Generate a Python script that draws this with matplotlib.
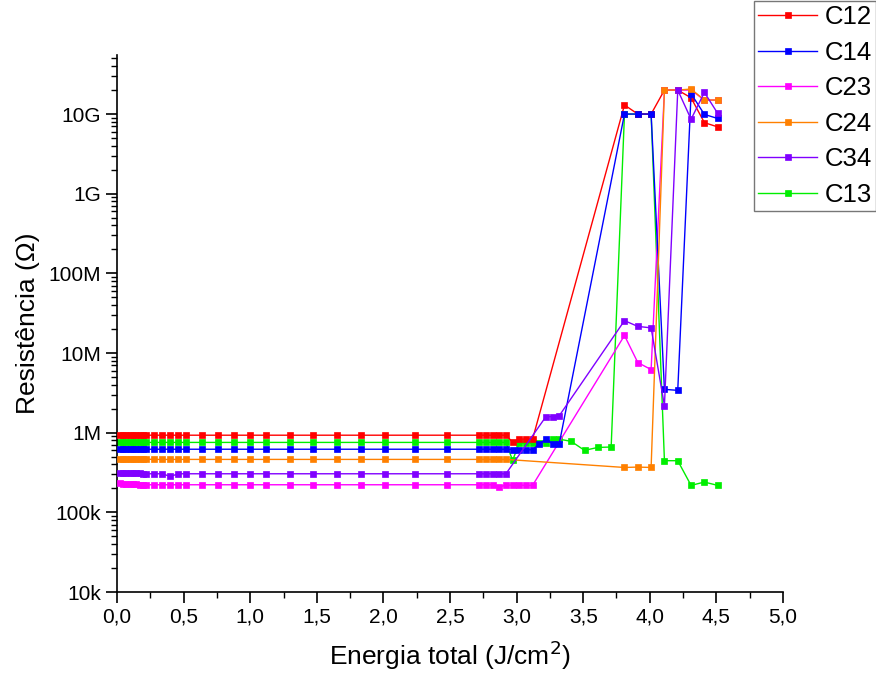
import matplotlib
matplotlib.use('Agg')
import matplotlib.pyplot as plt
from matplotlib.ticker import LogLocator, FixedLocator, FuncFormatter

plt.rcParams['font.family'] = ['Liberation Sans', 'DejaVu Sans']

# shared x positions (J/cm2) of the early measurements
x_base = [0.02, 0.045, 0.07, 0.095, 0.12, 0.145, 0.17, 0.195, 0.22, 0.28, 0.34,
          0.40, 0.46, 0.52, 0.64, 0.76, 0.88, 1.00, 1.12, 1.30, 1.47, 1.65,
          1.83, 2.01, 2.24, 2.48, 2.72, 2.77, 2.82, 2.87, 2.92]

# resistances in kOhm
c12_x = x_base + [2.97, 3.02, 3.07, 3.12, 3.81, 3.91, 4.01, 4.11, 4.21, 4.31, 4.41, 4.51]
c12_y = [930, 930, 930, 930, 930, 930, 930, 930, 930, 930, 930,
         930, 930, 930, 930, 930, 930, 930, 930, 930, 930, 930,
         930, 930, 930, 930, 930, 930, 930, 930, 930,
         760, 830, 830, 830, 1.3e7, 1.0e7, 1.0e7, 2.0e7, 2.0e7, 1.6e7, 7.8e6, 6.9e6]

c14_x = x_base + [2.97, 3.02, 3.07, 3.12, 3.17, 3.22, 3.27, 3.32,
                  3.81, 3.91, 4.01, 4.11, 4.21, 4.31, 4.41, 4.51]
c14_y = [620, 620, 620, 620, 620, 620, 620, 620, 620, 620, 620,
         620, 620, 620, 620, 620, 620, 620, 620, 620, 620, 620,
         620, 620, 620, 620, 620, 620, 620, 620, 620,
         615, 610, 610, 610, 725, 830, 725, 725,
         1.0e7, 1.0e7, 1.0e7, 3500, 3400, 1.8e7, 9.9e6, 8.8e6]

c23_x = x_base + [2.97, 3.02, 3.07, 3.12, 3.81, 3.91, 4.01, 4.11, 4.21, 4.31, 4.41, 4.51]
c23_y = [232, 230, 228, 226, 225, 224, 223, 222, 222, 222, 222,
         222, 222, 222, 222, 222, 222, 222, 222, 222, 222, 222,
         222, 222, 222, 222, 222, 222, 222, 208, 220,
         220, 220, 218, 218, 16600, 7600, 6200, 2.0e7, 2.0e7, 2.0e7, 1.5e7, 1.5e7]

c24_x = x_base + [3.81, 3.91, 4.01, 4.11, 4.21, 4.31, 4.41, 4.51]
c24_y = [465, 465, 465, 465, 465, 465, 465, 465, 465, 462, 462,
         462, 462, 462, 462, 462, 462, 462, 462, 462, 462, 462,
         462, 462, 462, 462, 462, 462, 462, 462, 462,
         366, 370, 366, 2.0e7, 2.0e7, 2.06e7, 1.5e7, 1.5e7]

c34_x = x_base + [3.22, 3.27, 3.32, 3.81, 3.91, 4.01, 4.11, 4.21, 4.31, 4.41, 4.51]
c34_y = [310, 310, 312, 312, 312, 310, 308, 306, 305, 305, 305,
         282, 305, 305, 305, 305, 305, 305, 305, 305, 305, 305,
         305, 305, 305, 305, 305, 305, 305, 305, 305,
         1590, 1590, 1630, 25500, 21600, 20700, 2180, 2.0e7, 8.6e6, 1.87e7, 1.02e7]

c13_x = x_base + [2.97, 3.02, 3.07, 3.12, 3.17, 3.22, 3.27, 3.32, 3.41, 3.51, 3.61, 3.71,
                  3.81, 3.91, 4.01, 4.11, 4.21, 4.31, 4.41, 4.51]
c13_y = [755, 755, 755, 755, 755, 755, 755, 755, 755, 755, 755,
         755, 755, 755, 755, 755, 755, 755, 755, 755, 755, 755,
         755, 755, 755, 755, 755, 755, 755, 755, 755,
         449, 740, 740, 740, 740, 740, 830, 830, 778, 600, 653, 661,
         1.0e7, 1.0e7, 1.0e7, 445, 445, 218, 240, 218]

series = [
    ('C12', c12_x, c12_y, '#ff0000', 3),
    ('C14', c14_x, c14_y, '#0000ff', 4),
    ('C23', c23_x, c23_y, '#ff00ff', 3),
    ('C24', c24_x, c24_y, '#ff8000', 4),
    ('C34', c34_x, c34_y, '#8000ff', 5),
    ('C13', c13_x, c13_y, '#00ee00', 2),
]

fig = plt.figure(figsize=(8.76, 6.8), dpi=100)
ax = fig.add_axes([0.1336, 0.1294, 0.7602, 0.7896])

handles = []
for name, xs, ys, col, z in series:
    h, = ax.plot(xs, [v * 1e3 for v in ys], '-', color=col, lw=1.0,
                 marker='s', ms=5, mfc=col, mec=col, mew=0.5, label=name, zorder=z)
    handles.append(h)

ax.set_yscale('log')
ax.set_xlim(0, 5.0)
ax.set_ylim(1e4, 5.5e10)

ax.xaxis.set_major_locator(FixedLocator([0, 0.5, 1.0, 1.5, 2.0, 2.5, 3.0, 3.5, 4.0, 4.5, 5.0]))
ax.xaxis.set_minor_locator(FixedLocator([0.25, 0.75, 1.25, 1.75, 2.25, 2.75, 3.25, 3.75, 4.25, 4.75]))
ax.xaxis.set_major_formatter(FuncFormatter(lambda v, p: ('%.1f' % v).replace('.', ',')))

ylabels = {1e4: '10k', 1e5: '100k', 1e6: '1M', 1e7: '10M', 1e8: '100M', 1e9: '1G', 1e10: '10G'}
ax.yaxis.set_major_locator(FixedLocator(list(ylabels.keys())))
ax.yaxis.set_minor_locator(LogLocator(base=10, subs=range(2, 10), numticks=20))
ax.yaxis.set_major_formatter(FuncFormatter(lambda v, p: ylabels.get(v, '')))

ax.spines['top'].set_visible(False)
ax.spines['right'].set_visible(False)
ax.spines['left'].set_linewidth(1.2)
ax.spines['bottom'].set_linewidth(1.2)
ax.tick_params(axis='both', which='major', direction='out', length=8, width=1.2, labelsize=15)
ax.tick_params(axis='both', which='minor', direction='out', length=4, width=1.0)

ax.set_xlabel('Energia total (J/cm$^2$)', fontsize=19, labelpad=8)
ax.set_ylabel('Resistência (Ω)', fontsize=19, labelpad=6)

leg = fig.legend(handles=handles, loc='upper left', bbox_to_anchor=(0.861, 0.998),
                 fontsize=18.5, frameon=True, fancybox=False, edgecolor='#555555',
                 handlelength=2.3, handletextpad=0.3, borderaxespad=0.0, borderpad=0.15,
                 labelspacing=0.45, markerscale=1.0)
leg.get_frame().set_linewidth(1.0)

fig.savefig('out.png', dpi=100)
